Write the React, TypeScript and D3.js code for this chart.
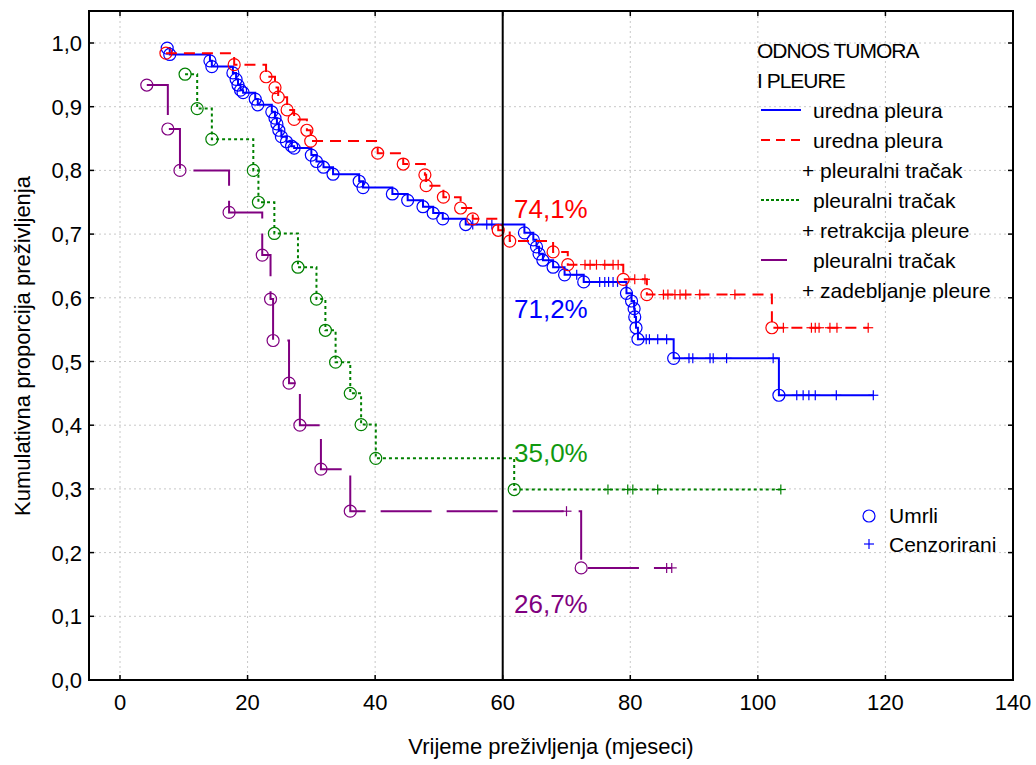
import React from "react";
import * as d3 from "d3";

// ---------- data ----------
const blueEventT = [7.4, 7.8, 14.1, 14.4, 17.7, 18.2, 18.5, 18.9, 19.3, 21.2, 21.6, 23.8, 24.3, 24.6, 24.9, 25.3, 26.1, 26.9, 27.3, 30.0, 30.8, 31.9, 33.4, 37.5, 38.1, 42.7, 45.1, 47.5, 49.1, 50.6, 54.2, 63.4, 64.8, 65.3, 65.7, 66.3, 67.9, 69.7, 72.7, 79.4, 80.2, 80.6, 80.7, 80.9, 81.2, 86.8, 103.3];
const blueEventS = [0.992, 0.982, 0.972, 0.963, 0.953, 0.943, 0.934, 0.926, 0.922, 0.912, 0.903, 0.892, 0.882, 0.873, 0.863, 0.853, 0.845, 0.838, 0.835, 0.824, 0.814, 0.805, 0.794, 0.783, 0.773, 0.763, 0.753, 0.743, 0.733, 0.724, 0.715, 0.702, 0.691, 0.680, 0.669, 0.659, 0.648, 0.636, 0.625, 0.607, 0.595, 0.583, 0.570, 0.553, 0.535, 0.505, 0.447];
const blueCensT = [55.3, 57.5, 58.3, 71.6, 75.2, 76.0, 76.6, 77.3, 78.0, 82.5, 83.0, 84.3, 85.7, 89.2, 89.8, 92.5, 93.0, 95.1, 102.4, 106.1, 107.1, 108.0, 109.0, 112.3, 118.1];

const redEventT = [7.2, 17.9, 22.9, 24.3, 24.8, 26.2, 27.3, 29.3, 29.9, 40.4, 44.4, 47.8, 48.0, 50.7, 53.4, 55.3, 59.3, 61.1, 67.9, 70.2, 78.9, 82.6, 102.2];
const redEventS = [0.984, 0.966, 0.947, 0.930, 0.915, 0.895, 0.880, 0.863, 0.846, 0.827, 0.810, 0.793, 0.776, 0.758, 0.741, 0.724, 0.706, 0.689, 0.672, 0.652, 0.629, 0.605, 0.553];
const redCensT = [72.9, 73.7, 74.7, 76.0, 77.3, 78.1, 80.7, 82.3, 85.2, 85.9, 87.0, 87.8, 88.7, 90.9, 96.4, 104.0, 108.4, 109.0, 109.6, 111.3, 112.4, 117.3];

const greenEventT = [10.2, 12.1, 14.4, 20.9, 21.7, 24.2, 27.9, 30.8, 32.2, 33.8, 36.1, 37.8, 40.1, 61.8];
const greenEventS = [0.951, 0.897, 0.849, 0.800, 0.750, 0.701, 0.648, 0.598, 0.549, 0.499, 0.450, 0.401, 0.348, 0.299];
const greenCensT = [76.5, 79.6, 80.4, 84.3, 103.6];

const purpleEventT = [4.2, 7.5, 9.4, 17.1, 22.3, 23.6, 24.0, 26.5, 28.2, 31.5, 36.1, 72.3];
const purpleEventS = [0.934, 0.865, 0.800, 0.734, 0.667, 0.598, 0.533, 0.466, 0.400, 0.331, 0.265, 0.176];
const purpleCensT = [70.0, 85.7, 86.5];

const xTicks = [0, 20, 40, 60, 80, 100, 120, 140];
const yTicks = [0, 0.1, 0.2, 0.3, 0.4, 0.5, 0.6, 0.7, 0.8, 0.9, 1.0];

const legendTitle = ["ODNOS TUMORA", "I PLEURE"];
const legendRows = [
  { text: "uredna pleura", sample: "blue" },
  { text: "uredna pleura", sample: "red" },
  { text: "+ pleuralni tračak", sample: null },
  { text: "pleuralni tračak", sample: "green" },
  { text: "+ retrakcija pleure", sample: null },
  { text: "pleuralni tračak", sample: "purple" },
  { text: "+ zadebljanje pleure", sample: null },
];

const pctLabels = [
  { text: "74,1%", key: "red", y: 0.728 },
  { text: "71,2%", key: "blue", y: 0.571 },
  { text: "35,0%", key: "green", y: 0.345 },
  { text: "26,7%", key: "purple", y: 0.108 },
];

// ---------- styles ----------
const seriesStyle: Record<string, { color: string; dash: string; width: number; text: string }> = {
  blue: { color: "#0000ff", dash: "none", width: 2, text: "#0000ff" },
  red: { color: "#ff0000", dash: "11,7", width: 2, text: "#ff0000" },
  green: { color: "#008000", dash: "3,3", width: 2, text: "#109910" },
  purple: { color: "#800080", dash: "51,15", width: 2, text: "#800080" },
};

const FONT = "'Liberation Sans', Arial, Helvetica, sans-serif";

const L = 89, R = 1013, T = 11, B = 680;
const x = d3.scaleLinear().domain([0, 140]).range([120, 1013]);
const y = d3.scaleLinear().domain([0, 1]).range([680, 43]);

function survivalAt(ts: number[], ss: number[], t: number) {
  let s = ss[0];
  for (let i = 0; i < ts.length; i++) if (ts[i] <= t) s = ss[i];
  return s;
}

function Series({ k, et, es, ct }: { k: string; et: number[]; es: number[]; ct: number[] }) {
  const st = seriesStyle[k];
  const end = Math.max(et[et.length - 1], ...ct);
  const pts: [number, number][] = et.map((t, i) => [t, es[i]]);
  pts.push([end, es[es.length - 1]]);
  const line = d3.line<[number, number]>().x((d) => x(d[0])).y((d) => y(d[1])).curve(d3.curveStepAfter);
  return (
    <g>
      <path d={line(pts) || ""} fill="none" stroke={st.color} strokeWidth={st.width} strokeDasharray={st.dash} />
      {et.map((t, i) => (
        <circle key={"c" + i} cx={x(t)} cy={y(es[i])} r={6} fill="none" stroke={st.color} strokeWidth={1.2} />
      ))}
      {ct.map((t, i) => {
        const cx = x(t), cy = y(survivalAt(et, es, t));
        return (
          <g key={"p" + i} stroke={st.color} strokeWidth={1.2}>
            <line x1={cx - 5} x2={cx + 5} y1={cy} y2={cy} />
            <line x1={cx} x2={cx} y1={cy - 5} y2={cy + 5} />
          </g>
        );
      })}
    </g>
  );
}

export default function App() {
  return (
    <svg width={1036} height={765} style={{ position: "absolute", left: 0, top: 0, background: "#fff" }} fontFamily={FONT}>
      <rect x={0} y={0} width={1036} height={765} fill="#fff" />
      {/* grid */}
      <g stroke="#c8c8c8" strokeWidth={1} strokeDasharray="2,3">
        {xTicks.filter((t) => t < 140).map((t) => (
          <line key={"gx" + t} x1={x(t)} x2={x(t)} y1={T} y2={B} />
        ))}
        {yTicks.filter((t) => t > 0).map((t) => (
          <line key={"gy" + t} x1={L} x2={R} y1={y(t)} y2={y(t)} />
        ))}
      </g>
      {/* ticks */}
      <g stroke="#000" strokeWidth={1.5}>
        {xTicks.map((t) => (
          <g key={"tx" + t}>
            <line x1={x(t)} x2={x(t)} y1={B} y2={B - 5} />
            <line x1={x(t)} x2={x(t)} y1={T} y2={T + 5} />
          </g>
        ))}
        {yTicks.map((t) => (
          <g key={"ty" + t}>
            <line x1={L} x2={L + 5} y1={y(t)} y2={y(t)} />
            <line x1={R} x2={R - 5} y1={y(t)} y2={y(t)} />
          </g>
        ))}
      </g>
      {/* tick labels */}
      <g fontSize={22} fill="#000">
        {xTicks.map((t) => (
          <text key={"lx" + t} x={x(t)} y={710} textAnchor="middle">{d3.format("d")(t)}</text>
        ))}
        {yTicks.map((t) => (
          <text key={"ly" + t} x={82} y={y(t) + 8} textAnchor="end">{d3.format(".1f")(t).replace(".", ",")}</text>
        ))}
      </g>
      {/* axis titles */}
      <text x={551} y={754} fontSize={22} textAnchor="middle">Vrijeme preživljenja (mjeseci)</text>
      <text transform={`translate(30,346) rotate(-90)`} fontSize={22} textAnchor="middle">Kumulativna proporcija preživljenja</text>

      {/* series */}
      <Series k="blue" et={blueEventT} es={blueEventS} ct={blueCensT} />
      <Series k="red" et={redEventT} es={redEventS} ct={redCensT} />
      <Series k="green" et={greenEventT} es={greenEventS} ct={greenCensT} />
      <Series k="purple" et={purpleEventT} es={purpleEventS} ct={purpleCensT} />

      {/* 60-month line */}
      <line x1={x(60)} x2={x(60)} y1={T} y2={B} stroke="#000" strokeWidth={2} />

      {/* percentage labels */}
      {pctLabels.map((p) => (
        <text key={p.text} x={514} y={y(p.y) + 2} fontSize={26} fill={seriesStyle[p.key].text}>{p.text}</text>
      ))}

      {/* legend */}
      <g fontSize={21} fill="#000">
        {legendTitle.map((t, i) => (
          <text key={t} x={757} y={58 + i * 30} letterSpacing={-1}>{t}</text>
        ))}
        {legendRows.map((r, i) => {
          const by = 118 + i * 30;
          if (r.sample) {
            const st = seriesStyle[r.sample];
            const x2 = r.sample === "purple" ? 787 : 801;
            return (
              <g key={"lr" + i}>
                <line x1={761} x2={x2} y1={by - 8} y2={by - 8} stroke={st.color} strokeWidth={2} strokeDasharray={r.sample === "red" ? "9,6" : r.sample === "green" ? "3,2" : "none"} />
                <text x={813} y={by}>{r.text}</text>
              </g>
            );
          }
          return <text key={"lr" + i} x={802} y={by}>{r.text}</text>;
        })}
      </g>
      <g fontSize={21}>
        <circle cx={869} cy={516} r={6} fill="none" stroke="#0000ff" strokeWidth={1.2} />
        <text x={889} y={523}>Umrli</text>
        <g stroke="#0000ff" strokeWidth={1.2}>
          <line x1={864} x2={874} y1={544} y2={544} />
          <line x1={869} x2={869} y1={539} y2={549} />
        </g>
        <text x={889} y={552}>Cenzorirani</text>
      </g>

      {/* frame */}
      <rect x={L} y={T} width={R - L} height={B - T} fill="none" stroke="#000" strokeWidth={2} />
    </svg>
  );
}
